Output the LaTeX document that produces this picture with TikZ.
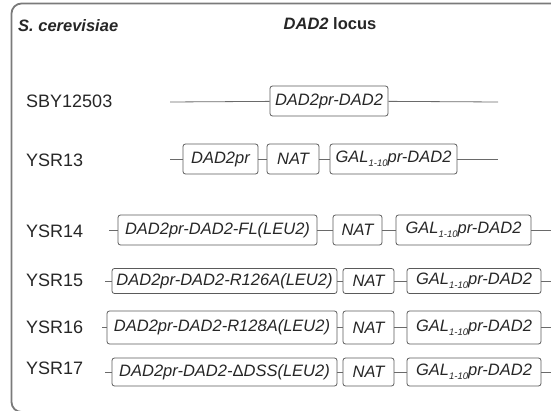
\documentclass[tikz,border=0pt]{standalone}
\usepackage{fontspec}
\setmainfont{Liberation Sans}
\usepackage{xcolor}
\usetikzlibrary{positioning,calc}
\definecolor{ink}{HTML}{262626}
\definecolor{frame}{HTML}{7A7A7A}
\definecolor{wire}{HTML}{6A6A6A}
\definecolor{edge}{HTML}{5A5A5A}
\newcommand{\galsub}{GAL\raisebox{-0.45ex}{\fontsize{9.5}{10}\selectfont 1-10}pr-DAD2}

\tikzset{
  strain/.style={anchor=west, inner sep=0pt, font=\fontsize{18}{20}\selectfont\color{ink}},
  part/.style={draw=edge, line width=0.8pt, rounded corners=2.5pt, minimum height=30,
    inner sep=1pt, font=\itshape\fontsize{16.5}{18}\selectfont\color{ink}},
  wireline/.style={draw=wire, line width=0.8pt},
  header/.style={inner sep=0pt, font=\bfseries\fontsize{16.5}{18}\selectfont\color{ink}}
}

\begin{document}
\begin{tikzpicture}[x=1pt, y=-1pt]
  \useasboundingbox (0,0) rectangle (551,411);
  \clip (0,0) rectangle (551,411);
  \draw[frame, line width=1.8pt, rounded corners=10pt] (11.5,3.5) rectangle (570,412);

  \node[header, anchor=west] (species) at (18,26) {\itshape S. cerevisiae};
  \node[header] (locus) at (330,24) {\itshape DAD2\upshape\ locus};

  % SBY12503
  \node[strain] (n0) at (26,101) {SBY12503};
  \coordinate (l0) at (170,102);
  \coordinate (r0) at (498,102);
  \node[part, minimum width=118] (b0) at (329,101) {DAD2pr-DAD2};
  \draw[wireline] (l0) -- (b0) -- (r0);

  % YSR13
  \node[strain] (n13) at (26,160) {YSR13};
  \coordinate (l13) at (170,159);
  \coordinate (r13) at (498,159);
  \node[part, minimum width=75] (b13a) at (220.5,159) {DAD2pr};
  \node[part, minimum width=52] (b13b) at (293,159) {NAT};
  \node[part, minimum width=127] (b13c) at (393.5,159) {\galsub};
  \draw[wireline] (l13) -- (b13a) -- (b13b) -- (b13c) -- (r13);

  % YSR14
  \node[strain] (n14) at (26,231) {YSR14};
  \coordinate (l14) at (109,230);
  \coordinate (r14) at (551,230);
  \node[part, minimum width=199] (b14a) at (217.5,230) {DAD2pr-DAD2-FL(LEU2)};
  \node[part, minimum width=49] (b14b) at (357.5,230) {NAT};
  \node[part, minimum width=135] (b14c) at (463.5,230) {\galsub};
  \draw[wireline] (l14) -- (b14a) -- (b14b) -- (b14c) -- (r14);

  % YSR15
  \node[strain] (n15) at (26,280) {YSR15};
  \coordinate (l15) at (105,281);
  \coordinate (r15) at (551,281);
  \node[part, minimum width=225, minimum height=25] (b15a) at (224.5,281) {DAD2pr-DAD2-R126A(LEU2)};
  \node[part, minimum width=51, minimum height=25] (b15b) at (368.5,281) {NAT};
  \node[part, minimum width=134, minimum height=25] (b15c) at (474,281) {\galsub};
  \draw[wireline] (l15) -- (b15a) -- (b15b) -- (b15c) -- (r15);

  % YSR16
  \node[strain] (n16) at (26,327) {YSR16};
  \coordinate (l16) at (102,327.5);
  \coordinate (r16) at (551,327.5);
  \node[part, minimum width=230, minimum height=33] (b16a) at (222,327.5) {DAD2pr-DAD2-R128A(LEU2)};
  \node[part, minimum width=51, minimum height=33] (b16b) at (368.5,327.5) {NAT};
  \node[part, minimum width=134, minimum height=33] (b16c) at (474,327.5) {\galsub};
  \draw[wireline] (l16) -- (b16a) -- (b16b) -- (b16c) -- (r16);

  % YSR17
  \node[strain] (n17) at (26,368) {YSR17};
  \coordinate (l17) at (105,372);
  \coordinate (r17) at (551,372);
  \node[part, minimum width=225, minimum height=28] (b17a) at (224.5,372) {DAD2pr-DAD2-{\upshape Δ}DSS(LEU2)};
  \node[part, minimum width=51, minimum height=28] (b17b) at (368.5,372) {NAT};
  \node[part, minimum width=134, minimum height=28] (b17c) at (474,372) {\galsub};
  \draw[wireline] (l17) -- (b17a) -- (b17b) -- (b17c) -- (r17);
\end{tikzpicture}
\end{document}
